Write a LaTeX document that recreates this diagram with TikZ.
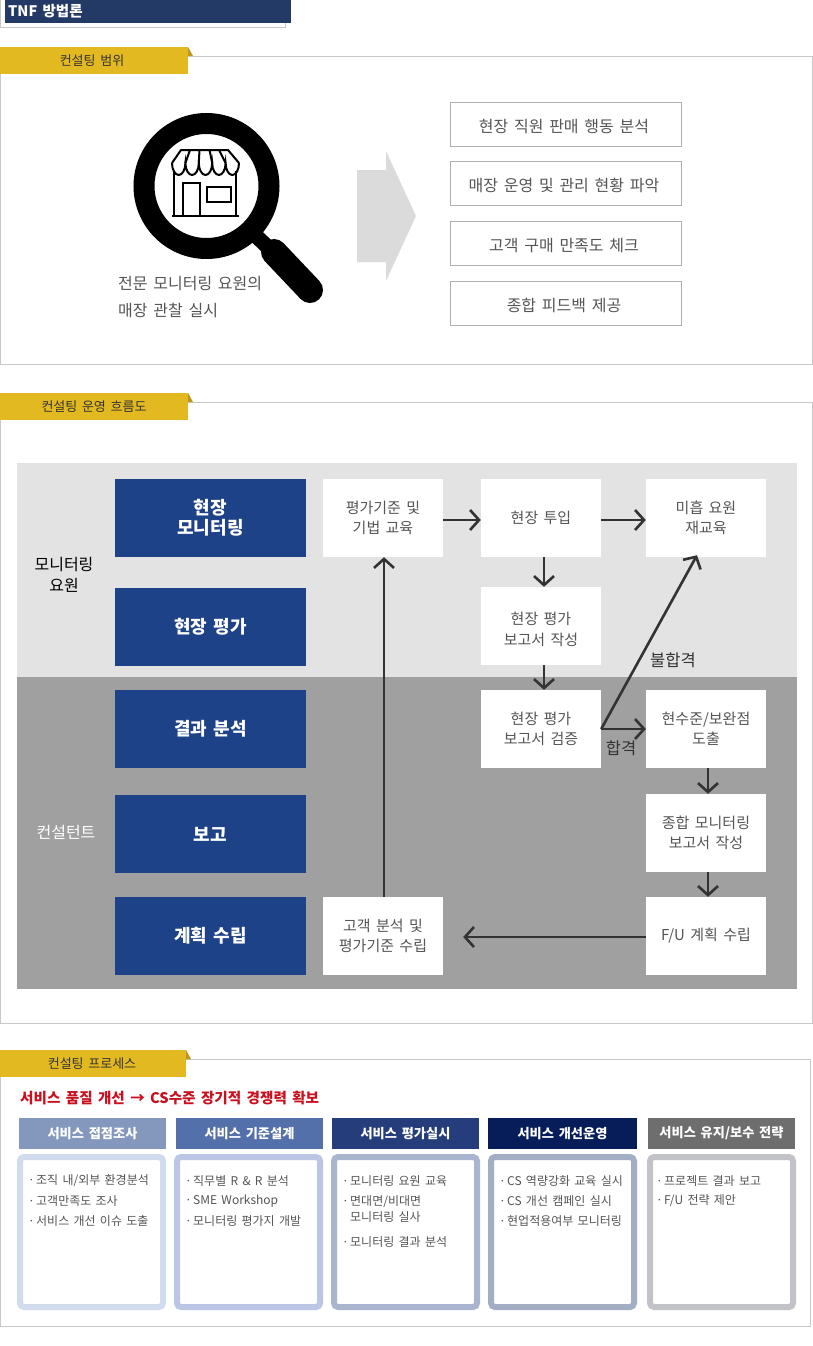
\documentclass[tikz,border=0pt]{standalone}
\usepackage{xcolor}
\usepackage{fontspec}
\setmainfont[WordSpace=1.6]{Noto Sans CJK KR}
\usetikzlibrary{arrows.meta, calc}
\definecolor{mynavy}{RGB}{35,58,102}
\definecolor{mygold}{RGB}{227,185,33}
\definecolor{mygolddark}{RGB}{190,150,30}
\definecolor{myframe}{RGB}{200,200,200}
\definecolor{mybox}{RGB}{176,176,176}
\definecolor{mytext}{RGB}{85,85,85}
\definecolor{mydark}{RGB}{51,51,51}
\definecolor{myblue}{RGB}{30,66,136}
\definecolor{bandlight}{RGB}{227,227,227}
\definecolor{banddark}{RGB}{160,160,160}
\definecolor{myred}{RGB}{200,16,30}
\definecolor{hdrone}{RGB}{132,152,190}
\definecolor{hdrtwo}{RGB}{84,112,171}
\definecolor{hdrthree}{RGB}{38,61,124}
\definecolor{hdrfour}{RGB}{7,29,90}
\definecolor{hdrfive}{RGB}{110,110,110}
\definecolor{edgeone}{RGB}{208,220,238}
\definecolor{edgetwo}{RGB}{187,198,230}
\definecolor{edgethree}{RGB}{169,180,207}
\definecolor{edgefour}{RGB}{163,174,197}
\definecolor{edgefive}{RGB}{194,195,200}
\newcommand{\procdot}{\makebox[8pt][l]{·}}
\tikzset{
  tab/.style={rectangle, fill=mygold, text=mydark, inner sep=0pt,
    minimum width=188pt, minimum height=27pt, font=\fontsize{13}{13}\selectfont},
  scopebox/.style={rectangle, draw=mybox, fill=white, text=mytext, inner sep=0pt,
    minimum width=231pt, minimum height=44pt, text height=18pt, text depth=3pt,
    font=\fontsize{16}{16}\selectfont},
  stagebox/.style={rectangle, fill=myblue, text=white, inner sep=0pt, align=center,
    minimum width=191pt, minimum height=78pt, font=\bfseries\fontsize{18}{20}\selectfont},
  taskbox/.style={rectangle, fill=white, text=mytext, inner sep=0pt, align=center,
    minimum width=120pt, minimum height=78pt, font=\fontsize{15}{20.5}\selectfont},
  rolelabel/.style={inner sep=0pt, align=center, font=\fontsize{16}{21}\selectfont},
  flowarrow/.style={-{Straight Barb[length=9pt,width=20pt,line width=2.6pt]}, line width=2.6pt, color=mydark},
  steplabel/.style={inner sep=0pt, text=mydark, font=\fontsize{16.5}{16.5}\selectfont},
  prochead/.style={rectangle, text=white, inner sep=0pt, minimum height=31pt,
    font=\bfseries\fontsize{13.2}{13.2}\selectfont},
  procbody/.style={rectangle, draw, fill=white, line width=6pt, rounded corners=4pt,
    inner sep=0pt, minimum height=150pt},
  procitem/.style={anchor=west, inner sep=0pt, text=mytext, align=left,
    font=\fontsize{12}{16}\selectfont},
  capline/.style={anchor=west, inner sep=0pt, text=mytext, font=\fontsize{16}{16}\selectfont}
}
\begin{document}
\begin{tikzpicture}[x=1pt, y=-1pt]
  \useasboundingbox (0,0) rectangle (813,1346);
  \fill[white] (0,0) rectangle (813,1346);

  % Page title
  \draw[myframe] (0.5,0) -- (0.5,27) -- (285.5,27) -- (285.5,0);
  \node[rectangle, fill=mynavy, text=white, inner sep=0pt, minimum width=286pt, minimum height=23pt] (title) at (148,11.5) {};
  \node[anchor=west, inner sep=0pt, text=white, font=\bfseries\fontsize{14.5}{14.5}\selectfont] (titletext) at (8,11) {TNF 방법론};

  % Section 1: scope
  \draw[myframe] (0.5,56.5) rectangle (812.5,364.5);
  \fill[mygolddark] (188,47) -- (193,56) -- (188,56) -- cycle;
  \node[tab] (tabscope) at (94,60.5) {\hspace*{-4pt}컨설팅 범위};

  % Magnifier with shop
  \draw[black, line width=21pt] (206.5,186) circle (62.5);
  \draw[black, line width=15pt] (254,234) -- (275,254);
  \draw[black, line width=26pt, line cap=round] (274,252) -- (310,290);
  \draw[black, line width=2pt, line join=round] (172,163) -- (181,150) -- (228,150) -- (239,163);
  \draw[black, line width=2pt] (172,163) arc[start angle=180, end angle=0, x radius=6.7, y radius=12]
    arc[start angle=180, end angle=0, x radius=6.7, y radius=12]
    arc[start angle=180, end angle=0, x radius=6.7, y radius=12]
    arc[start angle=180, end angle=0, x radius=6.7, y radius=12]
    arc[start angle=180, end angle=0, x radius=6.7, y radius=12];
  \draw[black, line width=2pt] (190,150) -- (185.4,163) (199.5,150) -- (198.8,163) (209.5,150) -- (212.2,163) (219,150) -- (225.6,163);
  \draw[black, line width=2pt] (174,171) -- (174,216) (236,171) -- (236,216);
  \draw[black, line width=2.4pt] (172,216) -- (239,216);
  \draw[black, line width=2pt] (183,216) -- (183,183) -- (200,183) -- (200,216);
  \draw[black, line width=2pt] (207,187) rectangle (231,202);

  \node[capline] (capone) at (118,283.5) {전문 모니터링 요원의};
  \node[capline] (captwo) at (118,310) {매장 관찰 실시};

  % Big arrow
  \fill[gray!28!white] (357,170) -- (386,170) -- (386,151) -- (416,216) -- (386,281) -- (386,262) -- (357,262) -- cycle;

  \node[scopebox] (scopea) at (566,124.5) {\hspace*{-4pt}현장 직원 판매 행동 분석};
  \node[scopebox] (scopeb) at (566,183.5) {\hspace*{-4pt}매장 운영 및 관리 현황 파악};
  \node[scopebox] (scopec) at (566,243.5) {\hspace*{-4pt}고객 구매 만족도 체크};
  \node[scopebox] (scoped) at (566,303.5) {\hspace*{-4pt}종합 피드백 제공};

  % Section 2: flow
  \draw[myframe] (0.5,402.5) rectangle (812.5,1023.5);
  \fill[mygolddark] (188,393) -- (193,402) -- (188,402) -- cycle;
  \node[tab] (tabflow) at (94,406.5) {컨설팅 운영 흐름도};
  \fill[bandlight] (17,463) rectangle (797,677);
  \fill[banddark] (17,677) rectangle (797,989);

  \node[rolelabel, text=black] (rolemon) at (64,575) {모니터링\\요원};
  \node[rolelabel, text=white] (rolecon) at (66,832) {컨설턴트};

  % Stage column
  \node[stagebox] (stagemon) at (210.5,518) {현장\\모니터링};
  \node[stagebox] (stageeval) at (210.5,627) {현장 평가};
  \node[stagebox] (stageres) at (210.5,729) {결과 분석};
  \node[stagebox] (stagerep) at (210.5,834) {보고};
  \node[stagebox] (stageplan) at (210.5,936) {계획 수립};

  % Tasks
  \node[taskbox] (edu) at (383,518) {평가기준 및\\기법 교육};
  \node[taskbox] (field) at (541,518) {현장 투입};
  \node[taskbox] (retrain) at (706,518) {미흡 요원\\재교육};
  \node[taskbox, text height=40pt] (write) at (541,626) {현장 평가\\보고서 작성};
  \node[taskbox] (verify) at (541,729) {현장 평가\\보고서 검증};
  \node[taskbox] (gap) at (706,729) {현수준/보완점\\도출};
  \node[taskbox] (summary) at (706,833) {종합 모니터링\\보고서 작성};
  \node[taskbox] (fuplan) at (706,936) {F/U 계획 수립};
  \node[taskbox] (custom) at (383,936) {고객 분석 및\\평가기준 수립};

  % Connect tasks
  \draw[flowarrow] ([yshift=-2pt]edu.east) -- ([yshift=-2pt]field.west);
  \draw[flowarrow] ([yshift=-2pt]field.east) -- ([yshift=-2pt]retrain.west);
  \draw[flowarrow] ([xshift=3pt]field.south) -- ([xshift=3pt]write.north);
  \draw[flowarrow] ([xshift=3pt]write.south) -- ([xshift=3pt]verify.north);
  \draw[flowarrow] (verify.east) -- (gap.west);
  \draw[flowarrow] (verify.east) -- ([xshift=-9pt,yshift=2pt]retrain.south);
  \draw[flowarrow] ([xshift=2pt]gap.south) -- ([xshift=2pt]summary.north);
  \draw[flowarrow] ([xshift=2pt]summary.south) -- ([xshift=2pt]fuplan.north);
  \draw[flowarrow] ([yshift=-1pt]fuplan.west) -- ([xshift=20pt,yshift=-1pt]custom.east);
  \draw[flowarrow] ([xshift=1pt]custom.north) -- ([xshift=1pt]edu.south);

  \node[steplabel] (fail) at (673,660) {불합격};
  \node[steplabel] (pass) at (621,748) {합격};

  % Section 3: process
  \draw[myframe] (0.5,1059.5) rectangle (810.5,1326.5);
  \fill[mygolddark] (186,1050) -- (191,1059) -- (186,1059) -- cycle;
  \node[tab, minimum width=186pt] (tabproc) at (93,1063.5) {\hspace*{-2pt}컨설팅 프로세스};
  \node[anchor=west, inner sep=0pt, text=myred, font=\bfseries\fontsize{14.6}{14.6}\selectfont] (goal) at (20,1098) {서비스 품질 개선 → CS수준 장기적 경쟁력 확보};

  % Process headers
  \node[prochead, fill=hdrone, minimum width=147pt] (heada) at (92.5,1133.5) {서비스 접점조사};
  \node[prochead, fill=hdrtwo, minimum width=147pt] (headb) at (249.5,1133.5) {서비스 기준설계};
  \node[prochead, fill=hdrthree, minimum width=147pt] (headc) at (405.5,1133.5) {서비스 평가실시};
  \node[prochead, fill=hdrfour, minimum width=149pt] (headd) at (562.5,1133.5) {서비스 개선운영};
  \node[prochead, fill=hdrfive, minimum width=147pt] (heade) at (721.5,1133.5) {서비스 유지/보수 전략};

  % Process bodies
  \node[procbody, draw=edgeone, minimum width=143pt] (bodya) at (91.5,1232) {};
  \node[procbody, draw=edgetwo, minimum width=143pt] (bodyb) at (248.5,1232) {};
  \node[procbody, draw=edgethree, minimum width=143pt] (bodyc) at (405.5,1232) {};
  \node[procbody, draw=edgefour, minimum width=143pt] (bodyd) at (562.5,1232) {};
  \node[procbody, draw=edgefive, minimum width=143pt] (bodye) at (721.5,1232) {};

  % Process items
  \node[procitem] (itema1) at (28,1180.5) {\procdot 조직 내/외부 환경분석};
  \node[procitem] (itema2) at (28,1200.5) {\procdot 고객만족도 조사};
  \node[procitem] (itema3) at (28,1220.5) {\procdot 서비스 개선 이슈 도출};

  \node[procitem] (itemb1) at (185,1180.5) {\procdot 직무별 R \& R 분석};
  \node[procitem] (itemb2) at (185,1201) {\procdot SME Workshop};
  \node[procitem] (itemb3) at (185,1220.5) {\procdot 모니터링 평가지 개발};

  \node[procitem] (itemc1) at (342,1180.5) {\procdot 모니터링 요원 교육};
  \node[procitem] (itemc2) at (342,1208.5) {\procdot 면대면/비대면\\\hspace*{8pt}모니터링 실사};
  \node[procitem] (itemc3) at (342,1241.5) {\procdot 모니터링 결과 분석};

  \node[procitem] (itemd1) at (499,1180.5) {\procdot CS 역량강화 교육 실시};
  \node[procitem] (itemd2) at (499,1200.5) {\procdot CS 개선 캠페인 실시};
  \node[procitem] (itemd3) at (499,1220.5) {\procdot 현업적용여부 모니터링};

  \node[procitem] (iteme1) at (656,1180.5) {\procdot 프로젝트 결과 보고};
  \node[procitem] (iteme2) at (656,1200.5) {\procdot F/U 전략 제안};
\end{tikzpicture}
\end{document}
